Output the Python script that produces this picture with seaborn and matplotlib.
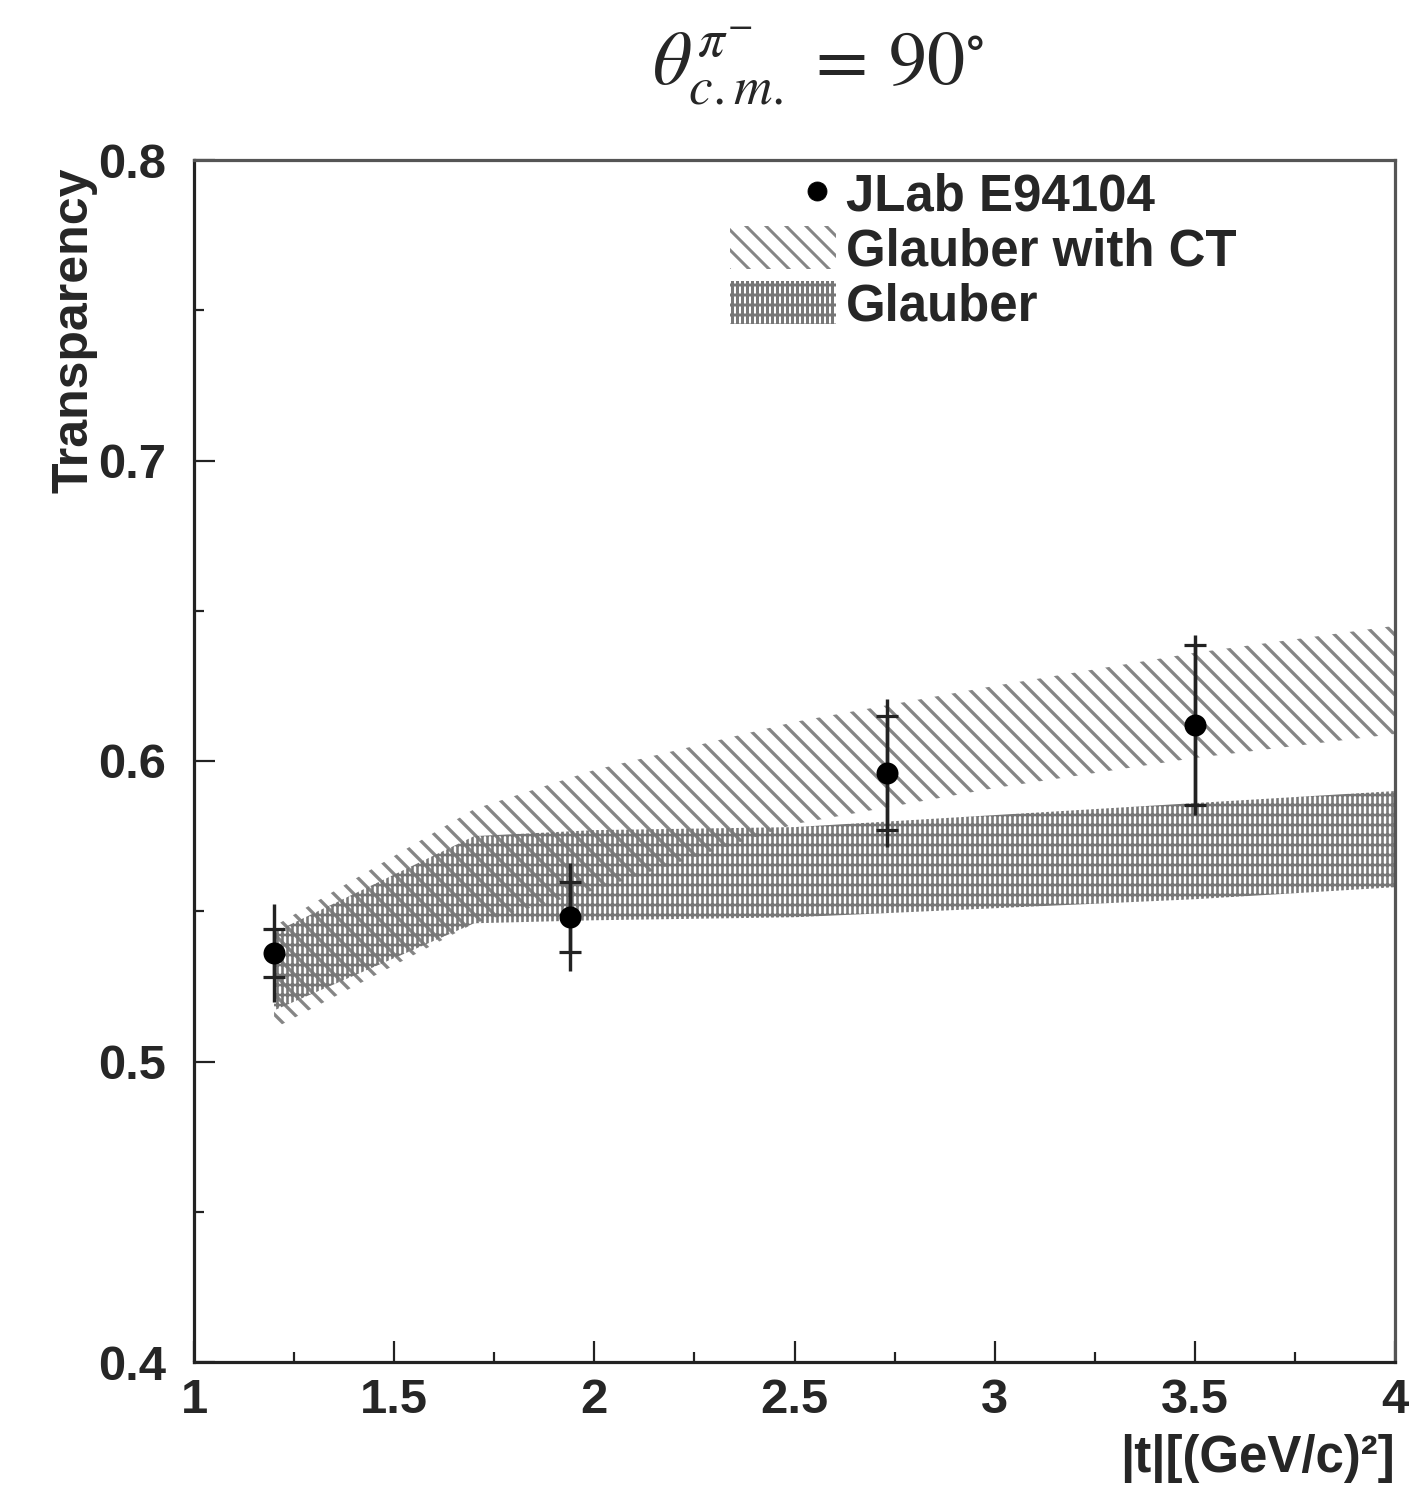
import matplotlib
matplotlib.use("Agg")
import matplotlib.pyplot as plt
import seaborn as sns
import numpy as np
import pandas as pd
from matplotlib.patches import Patch
from matplotlib.lines import Line2D
from matplotlib.legend_handler import HandlerLine2D

# ---------------- data ----------------
t_data = [1.20, 1.94, 2.73, 3.50]
T_data = [0.536, 0.548, 0.596, 0.612]
err_stat = [0.008, 0.0117, 0.019, 0.0266]
err_tot = [0.0163, 0.018, 0.0245, 0.030]

t_band = [1.20, 1.70, 2.00, 2.50, 3.00, 3.50, 4.00]
ct_low = [0.511, 0.546, 0.557, 0.579, 0.591, 0.601, 0.609]
ct_high = [0.545, 0.584, 0.597, 0.613, 0.625, 0.636, 0.645]
gl_low = [0.517, 0.546, 0.547, 0.548, 0.551, 0.554, 0.558]
gl_high = [0.543, 0.575, 0.577, 0.578, 0.582, 0.586, 0.590]

xtick_vals = [1, 1.5, 2, 2.5, 3, 3.5, 4]
xtick_labels = ["1", "1.5", "2", "2.5", "3", "3.5", "4"]
ytick_vals = [0.4, 0.5, 0.6, 0.7, 0.8]
ytick_labels = ["0.4", "0.5", "0.6", "0.7", "0.8"]

legend_labels = ["JLab E94104", "Glauber with CT", "Glauber"]

# ---------------- style ----------------
DPI = 60
PX = 72.0 / DPI  # points per pixel

CT_COLOR = "#858585"
GL_COLOR = "#777777"
CT_HATCH = "\\"
GL_HATCH = "+|"
CT_HLW = 3.3 * PX
GL_HLW = 2.6 * PX

sns.set_style("ticks")
plt.rcParams["font.family"] = ["Liberation Sans", "DejaVu Sans"]
plt.rcParams["mathtext.fontset"] = "stix"
plt.rcParams["hatch.linewidth"] = 3.0 * PX

fig = plt.figure(figsize=(1410 / DPI, 1489 / DPI), dpi=DPI)
ax = fig.add_axes([194 / 1410, 1 - 1362 / 1489, (1395 - 194) / 1410, (1362 - 160) / 1489])

df = pd.DataFrame({"t": t_data, "T": T_data})


def set_hlw(artist, lw):
    if hasattr(artist, "set_hatch_linewidth"):
        try:
            artist.set_hatch_linewidth(lw)
        except Exception:
            pass


# bands
with plt.rc_context({"hatch.linewidth": CT_HLW}):
    b1 = ax.fill_between(t_band, ct_low, ct_high, facecolor="none", edgecolor=CT_COLOR,
                         hatch=CT_HATCH, linewidth=0, zorder=1)
set_hlw(b1, CT_HLW)
with plt.rc_context({"hatch.linewidth": GL_HLW}):
    b2 = ax.fill_between(t_band, gl_low, gl_high, facecolor="none", edgecolor=GL_COLOR,
                         hatch=GL_HATCH, linewidth=0, zorder=2)
set_hlw(b2, GL_HLW)

# error bars (total: plain line, stat: with caps)
ax.errorbar(t_data, T_data, yerr=err_tot, fmt="none", ecolor="#222222",
            elinewidth=3.4 * PX, capsize=0, zorder=4)
ax.errorbar(t_data, T_data, yerr=err_stat, fmt="none", ecolor="#222222",
            elinewidth=3.4 * PX, capsize=11.5 * PX, capthick=3.2 * PX, zorder=4)

sns.scatterplot(data=df, x="t", y="T", ax=ax, s=(22 * PX) ** 2, color="black",
                edgecolor="black", linewidth=0, zorder=5, legend=False)

ax.set_xlim(1, 4)
ax.set_ylim(0.4, 0.8)
ax.set_xticks(xtick_vals)
ax.set_xticklabels(xtick_labels)
ax.set_yticks(ytick_vals)
ax.set_yticklabels(ytick_labels)
ax.set_xticks(np.arange(1.25, 4.0, 0.5), minor=True)
ax.set_yticks(np.arange(0.45, 0.8, 0.1), minor=True)

tick_fs = 49 * PX
ax.tick_params(axis="both", which="major", direction="in", length=21 * PX,
               width=2.2 * PX, labelsize=tick_fs, color="#222222")
ax.tick_params(axis="both", which="minor", direction="in", length=10 * PX,
               width=2.2 * PX, color="#222222")
ax.tick_params(axis="x", which="major", pad=16 * PX)
ax.tick_params(axis="y", which="major", pad=28 * PX)
for lab in ax.get_xticklabels() + ax.get_yticklabels():
    lab.set_fontweight("bold")

for side in ["left", "bottom"]:
    ax.spines[side].set_linewidth(3.2 * PX)
    ax.spines[side].set_color("#222222")
for side in ["top", "right"]:
    ax.spines[side].set_linewidth(3.2 * PX)
    ax.spines[side].set_color("#555555")
    ax.spines[side].set_visible(True)

ax.set_xlabel("")
ax.set_ylabel("")

# axis titles (ROOT style)
fig.text(75 / 1410, 1 - 168 / 1489, "Transparency", rotation=90, ha="center",
         va="top", fontsize=50 * PX, fontweight="bold")
fig.text(1395 / 1410, 1 - 1472 / 1489, "|t|[(GeV/c)\u00b2]", ha="right", va="baseline",
         fontsize=51 * PX, fontweight="bold")

# title
fig.text(818 / 1410, 1 - 84 / 1489, r"$\theta^{\pi^{-}}_{c.m.}\,=\,90^{\circ}$",
         ha="center", va="baseline", fontsize=76 * PX)


# legend
class RightMarkerHandler(HandlerLine2D):
    def get_xdata(self, legend, xdescent, ydescent, width, height, fontsize):
        xd = np.array([-xdescent + 0.64 * width, -xdescent + width])
        xm = np.array([-xdescent + 0.82 * width])
        return xd, xm


h_data = Line2D([], [], marker="o", linestyle="none", color="black",
                markersize=19 * PX)
with plt.rc_context({"hatch.linewidth": CT_HLW}):
    h_ct = Patch(facecolor="none", edgecolor=CT_COLOR, hatch=CT_HATCH, linewidth=0)
set_hlw(h_ct, CT_HLW)
with plt.rc_context({"hatch.linewidth": GL_HLW}):
    h_gl = Patch(facecolor="none", edgecolor=GL_COLOR, hatch=GL_HATCH, linewidth=0)
set_hlw(h_gl, GL_HLW)

leg = ax.legend([h_data, h_ct, h_gl], legend_labels,
                handler_map={h_data: RightMarkerHandler(numpoints=1)},
                loc="upper left", bbox_to_anchor=((730 - 194) / 1201, (1362 - 171) / 1202),
                frameon=False, borderpad=0, borderaxespad=0,
                handlelength=2.08, handleheight=0.92, handletextpad=0.2,
                labelspacing=0.1, prop={"weight": "bold", "size": 51 * PX})

fig.savefig("out.png", dpi=DPI)
